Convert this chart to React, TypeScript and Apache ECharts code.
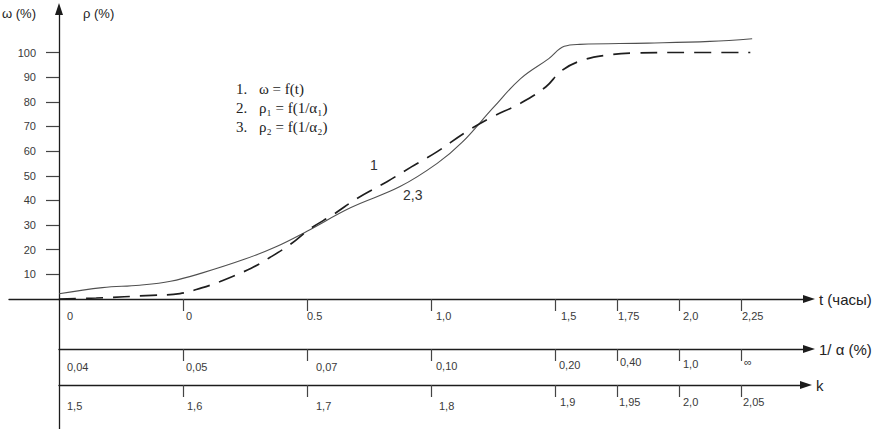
import React, { useEffect, useRef } from "react";
import * as echarts from "echarts";

// ---- data ----
// axis slots: the y axis sits at slot 0, t = 0 at slot 2, one hour = 4 slots
const labelSlots = [0, 2, 4, 6, 8, 9, 10, 11];
const tickSlots = [2, 4, 6, 8, 9, 10, 11];
const tLabels = ["0", "0", "0.5", "1,0", "1,5", "1,75", "2,0", "2,25"];
const alphaLabels = ["0,04", "0,05", "0,07", "0,10", "0,20", "0,40", "1,0", "∞"];
const kLabels = ["1,5", "1,6", "1,7", "1,8", "1,9", "1,95", "2,0", "2,05"];
const yTicks = [10, 20, 30, 40, 50, 60, 70, 80, 90, 100];

// curve 1 (solid): ω = f(t)
const omegaX = [0, 0.7, 1.3, 1.8, 2.3, 3.0, 3.5, 4.0, 4.7, 5.5, 6.1, 6.5, 7.0, 7.45, 7.9, 8.15, 8.4, 9.5, 10.5, 11.18];
const omegaY = [2.1, 4.6, 5.6, 7.2, 10.5, 16.2, 21.2, 27.5, 37, 45.6, 55, 63.5, 77.5, 89.5, 97.5, 102.5, 103.3, 103.8, 104.5, 105.6];

// curves 2,3 (dashed): ρ = f(1/α)
const rhoX = [0, 0.6, 1.5, 1.95, 2.3, 2.6, 3.1, 3.4, 3.75, 4.05, 4.42, 4.82, 5.29, 5.69, 6.1, 6.55, 6.95, 7.45, 7.85, 8.1, 8.4, 8.8, 9.3, 10.0, 11.15];
const rhoY = [0, 0.4, 1.5, 2.2, 4.5, 7.1, 12.5, 16.8, 22.5, 28.5, 34.2, 41, 47.6, 53.7, 59.8, 67.5, 73.4, 79.5, 86, 92.5, 96.5, 98.8, 99.8, 100, 100];

const legendNums = ["1.", "2.", "3."];
const legendTexts = ["ω = f(t)", "ρ₁ = f(1/α₁)", "ρ₂ = f(1/α₂)"];

// ---- layout / style ----
const SANS = "Liberation Sans, Arial, sans-serif";
const SERIF = "Liberation Serif, Times New Roman, serif";
const AXIS_COLOR = "#1c1c1c";
const TEXT_COLOR = "#3a3a3a";

// per-label nudges [left, top]
const tNudge = [[8, 0], [3, 0], [0, 0], [5, 0], [6, 0], [1, 0], [4, 0], [1, 0]];
const aNudge = [[8, 5], [3, 5], [9, 5], [5, 4], [4, 3], [3, 0], [4, 2], [3, 0]];
const kNudge = [[8, 4], [4, 4], [9, 4], [8, 4], [5, 0], [2, 0], [4, 0], [2, 0]];

function makeRich(nudge: number[][]) {
  const rich: Record<string, any> = {};
  nudge.forEach((n, i) => {
    rich["r" + i] = {
      fontFamily: SANS,
      fontSize: 11,
      color: TEXT_COLOR,
      padding: [n[1], 0, 0, n[0]],
    };
  });
  return rich;
}

function makeXAxis(
  gridIndex: number,
  max: number,
  labels: string[],
  nudge: number[][],
  name: string,
  margin: number
) {
  return {
    type: "value",
    gridIndex,
    min: 0,
    max,
    position: "bottom",
    name,
    nameLocation: "end",
    nameGap: 10,
    nameTextStyle: {
      fontFamily: SANS,
      fontSize: 15,
      color: "#222",
      align: "left",
      verticalAlign: "middle",
    },
    axisLine: {
      show: true,
      onZero: false,
      symbol: ["none", "triangle"],
      symbolSize: [8, 12],
      lineStyle: { color: AXIS_COLOR, width: 1.3 },
    },
    axisTick: {
      show: true,
      inside: false,
      length: 12,
      customValues: tickSlots,
      lineStyle: { color: "#444", width: 1.2 },
    },
    axisLabel: {
      show: true,
      customValues: labelSlots,
      margin,
      align: "left",
      verticalAlign: "top",
      fontFamily: SANS,
      fontSize: 11,
      color: TEXT_COLOR,
      hideOverlap: false,
      formatter: (v: number) => {
        const i = labelSlots.indexOf(v);
        return i < 0 ? "" : `{r${i}|${labels[i]}}`;
      },
      rich: makeRich(nudge),
    },
    splitLine: { show: false },
  };
}

export default function App() {
  const ref = useRef<HTMLDivElement>(null);

  useEffect(() => {
    document.body.style.margin = "0";
    if (!ref.current) return;
    const chart = echarts.init(ref.current, null, { renderer: "svg" });

    const pxPerSlot = 62;
    const pxPerUnit = 2.465;
    const zeroY = 299;
    const topY = 9;
    const yMax = (zeroY - topY) / pxPerUnit;
    const xMax = 750 / pxPerSlot;

    const omega = omegaX.map((x, i) => [x, omegaY[i]]);
    const rho = rhoX.map((x, i) => [x, rhoY[i]]);

    const gridBase = { outerBoundsMode: "none", containLabel: false };
    const hiddenAxis = (gridIndex: number) => ({
      type: "value",
      gridIndex,
      min: 0,
      max: 1,
      show: false,
    });

    const option: any = {
      animation: false,
      backgroundColor: "#ffffff",
      grid: [
        // main plot
        { ...gridBase, left: 59, right: 68, top: topY, height: zeroY - topY },
        // 1/α scale
        { ...gridBase, left: 59, right: 68, top: 348, height: 1 },
        // k scale
        { ...gridBase, left: 59, right: 71, top: 384, height: 1 },
        // vertical axis continuation below the t axis
        { ...gridBase, left: 59, right: 68, top: zeroY, bottom: 0 },
        // t axis stub left of the vertical axis
        { ...gridBase, left: 9, width: 50, top: zeroY - 1, height: 1 },
      ],
      xAxis: [
        makeXAxis(0, xMax, tLabels, tNudge, "t (часы)", 11),
        makeXAxis(1, xMax, alphaLabels, aNudge, "1/ α (%)", 7),
        makeXAxis(2, 747 / pxPerSlot, kLabels, kNudge, "k", 11),
        hiddenAxis(3),
        {
          type: "value",
          gridIndex: 4,
          min: 0,
          max: 1,
          position: "bottom",
          axisLine: { show: true, onZero: false, lineStyle: { color: AXIS_COLOR, width: 1.3 } },
          axisTick: { show: false },
          axisLabel: { show: false },
          splitLine: { show: false },
        },
      ],
      yAxis: [
        {
          type: "value",
          gridIndex: 0,
          min: 0,
          max: yMax,
          position: "left",
          name: "ω (%)",
          nameLocation: "end",
          nameGap: -4,
          nameTextStyle: {
            fontFamily: SANS,
            fontSize: 13,
            color: "#222",
            align: "right",
            verticalAlign: "middle",
            padding: [0, 23, 0, 0],
          },
          axisLine: {
            show: true,
            onZero: false,
            symbol: ["none", "triangle"],
            symbolSize: [8, 12],
            lineStyle: { color: AXIS_COLOR, width: 1.3 },
          },
          axisTick: {
            show: true,
            inside: false,
            length: 13,
            customValues: yTicks,
            lineStyle: { color: "#444", width: 1.2 },
          },
          axisLabel: {
            show: true,
            customValues: yTicks,
            margin: 23,
            fontFamily: SANS,
            fontSize: 11,
            color: TEXT_COLOR,
          },
          splitLine: { show: false },
        },
        hiddenAxis(1),
        hiddenAxis(2),
        {
          type: "value",
          gridIndex: 3,
          min: 0,
          max: 1,
          position: "left",
          axisLine: { show: true, onZero: false, lineStyle: { color: AXIS_COLOR, width: 1.3 } },
          axisTick: { show: false },
          axisLabel: { show: false },
          splitLine: { show: false },
        },
        hiddenAxis(4),
      ],
      series: [
        {
          type: "line",
          name: "1",
          xAxisIndex: 0,
          yAxisIndex: 0,
          data: omega,
          showSymbol: false,
          smooth: 0.4,
          lineStyle: { color: "#505050", width: 1.1 },
          z: 3,
        },
        {
          type: "line",
          name: "2,3",
          xAxisIndex: 0,
          yAxisIndex: 0,
          data: rho,
          showSymbol: false,
          smooth: 0.4,
          lineStyle: { color: "#1e1e1e", width: 1.7, type: [17, 10] },
          z: 4,
        },
      ],
      graphic: [
        {
          type: "text",
          x: 83,
          y: 13,
          style: {
            text: "ρ (%)",
            fontFamily: SANS,
            fontSize: 13,
            fill: "#222",
            align: "left",
            verticalAlign: "middle",
          },
        },
        ...legendNums.map((n, i) => ({
          type: "text",
          x: 236,
          y: 89 + i * 19,
          style: {
            text: n,
            fontFamily: SERIF,
            fontSize: 15,
            fill: "#222",
            align: "left",
            verticalAlign: "middle",
          },
        })),
        ...legendTexts.map((t, i) => ({
          type: "text",
          x: 259,
          y: 89 + i * 19,
          style: {
            text: t,
            fontFamily: SERIF,
            fontSize: 15,
            fill: "#222",
            align: "left",
            verticalAlign: "middle",
          },
        })),
        {
          type: "text",
          x: 370,
          y: 165,
          style: {
            text: "1",
            fontFamily: SANS,
            fontSize: 14,
            fill: "#333",
            align: "left",
            verticalAlign: "middle",
          },
        },
        {
          type: "text",
          x: 403,
          y: 195,
          style: {
            text: "2,3",
            fontFamily: SANS,
            fontSize: 14,
            fill: "#333",
            align: "left",
            verticalAlign: "middle",
          },
        },
      ],
    };

    chart.setOption(option);
    return () => chart.dispose();
  }, []);

  return <div ref={ref} style={{ width: 877, height: 429 }} />;
}
